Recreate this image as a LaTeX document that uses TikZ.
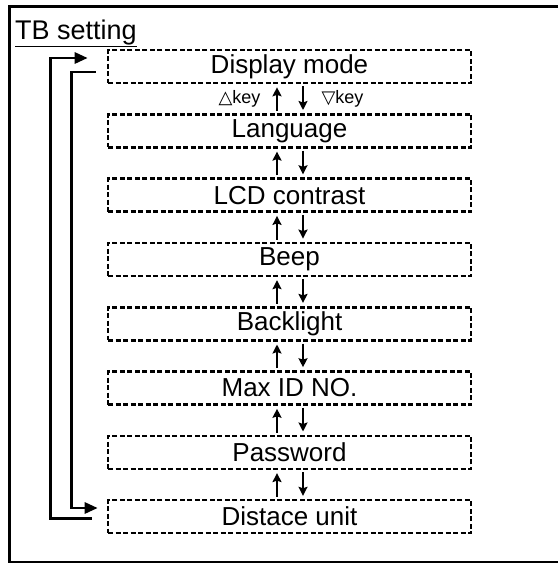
\documentclass[tikz,border=0pt]{standalone}
\usepackage{fontspec}
\setmainfont{Liberation Sans}
\newfontfamily\symfont{DejaVu Sans}
\usetikzlibrary{arrows.meta}

\begin{document}
\begin{tikzpicture}[x=1pt,y=-1pt,>=Stealth,
 item/.style={draw,dash pattern=on 5pt off 2.5pt,line width=2.6pt,minimum width=363pt,minimum height=33pt,inner sep=0pt,font=\fontsize{26}{28}\selectfont},
 updn/.style={line width=2.6pt,-{Stealth[length=9pt,width=9pt,inset=1.5pt]},shorten <=2pt,shorten >=3pt},
 flow/.style={line width=2.8pt,-{Triangle[length=13pt,width=11pt]}},
 keylbl/.style={inner sep=0pt,font=\fontsize{18}{20}\selectfont}]
 \useasboundingbox (0,0) rectangle (558,563);
 % frame and title
 \draw[line width=3pt] (558,6) -- (9,6) -- (9,562) -- (558,562);
 \node[anchor=base west,inner sep=0pt,font=\fontsize{27}{29}\selectfont] (title) at (15,39) {\underline{TB setting}};
 % menu items
 \foreach \name/\txt [count=\i from 0] in {disp/Display mode,lang/Language,lcd/LCD contrast,beep/Beep,blight/Backlight,maxid/Max ID NO.,pwd/Password,unit/Distace unit}
  \node[item] (\name) at (289.5,66.5+64.3*\i) {\txt};
 % up/down keys
 \foreach \a/\b in {lang/disp,lcd/lang,beep/lcd,blight/beep,maxid/blight,pwd/maxid,unit/pwd}{
  \draw[updn] ([xshift=-12.5pt]\a.north) -- ([xshift=-12.5pt]\b.south);
  \draw[updn] ([xshift=13.5pt]\b.south) -- ([xshift=13.5pt]\a.north);
 }
 \node[keylbl] (upkey) at (239.5,99) {{\symfont\fontsize{18}{20}\selectfont △}key};
 \node[keylbl] (dnkey) at (342.5,99) {{\symfont\fontsize{18}{20}\selectfont ▽}key};
 % wrap around
 \draw[flow] ([xshift=-15pt,yshift=-1.5pt]unit.west) -- ++(-41,0) |- ([xshift=-19pt,yshift=8.5pt]disp.west);
 \draw[flow] ([xshift=-11pt,yshift=-5.5pt]disp.west) -- ++(-24,0) |- ([xshift=-9pt,yshift=8.6pt]unit.west);
\end{tikzpicture}
\end{document}
